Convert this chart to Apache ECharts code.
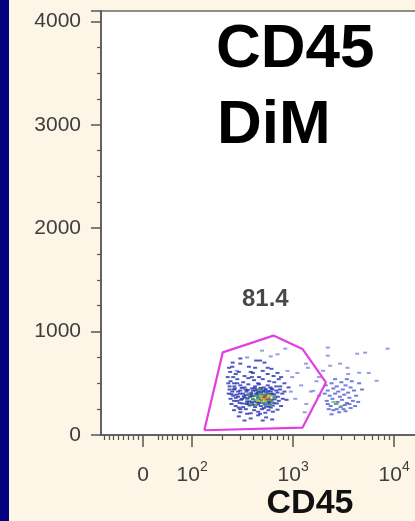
<!DOCTYPE html>
<html>
<head>
<meta charset="utf-8">
<script src="https://cdn.jsdelivr.net/npm/echarts@6/dist/echarts.min.js"></script>
<style>
  html, body { margin: 0; padding: 0; background: #fdf6e6; }
  #chart { width: 415px; height: 521px; }
</style>
</head>
<body>
<div id="chart"></div>
<script>
// SSC vs CD45 dot plot, CD45 dim gate

const yTicks = [0, 1000, 2000, 3000, 4000];
const xTickValues = [0, 100, 1000, 10000];
const xTickLabels = ['0', '{b|10}{s|2}', '{b|10}{s|3}', '{b|10}{s|4}'];
const xMinorTicks = [-80, -70, -60, -50, -40, -30, -20, -10,
  30, 40, 50, 60, 70, 80, 90,
  200, 300, 400, 500, 600, 700, 800, 900,
  2000, 3000, 4000, 5000, 6000, 7000, 8000, 9000, 20000, 30000];

// gate polygon (CD45, SSC)
const gateCD45 = [132, 201, 638, 1236, 2109, 1236, 132];
const gateSSC = [46, 799, 961, 832, 508, 71, 46];
const gateText = '81.4';
const gateTextAt = [530, 1315];

// events [CD45, SSC]
const dimDots = [
  [300,690],[420,650],[520,700],[610,640],[380,610],[700,600],[250,660],[470,720],
  [270,590],[330,570],[400,600],[460,560],[560,590],[640,570],[760,560],[290,610],[500,620],
  [240,520],[280,540],[320,510],[360,550],[410,530],[450,500],[500,540],[580,520],[650,510],[720,540],[820,500],[260,500],[390,560],
  [235,470],[265,450],[300,480],[330,460],[360,490],[390,450],[420,470],[460,490],[510,460],[560,480],[610,450],[680,470],[740,440],[280,500],[440,440],[900,460],
  [230,400],[250,420],[275,390],[300,430],[320,400],[345,420],[370,390],[400,430],[430,400],[460,420],[490,390],[520,430],[560,400],[600,420],[650,390],[700,410],[780,400],[260,440],[340,385],[480,440],[620,440],
  [240,350],[260,330],[285,370],[305,340],[330,360],[350,320],[375,370],[400,345],[425,325],[450,360],[480,340],[510,370],[540,330],[570,355],[610,340],[660,365],[720,330],[790,350],[270,360],[390,320],[460,375],[590,320],
  [245,300],[270,280],[295,310],[320,270],[345,300],[370,285],[395,305],[420,270],[450,295],[480,280],[510,310],[540,275],[580,300],[630,285],[690,305],[760,280],[290,265],[440,315],[600,265],
  [260,240],[300,220],[340,250],[380,210],[410,240],[450,225],[490,250],[530,215],[570,240],[630,225],[700,245],[350,205],[470,205],
  [290,180],[380,160],[450,190],[540,170],[620,150],[330,140],[500,140],
  [310,455],[355,435],[385,410],[415,455],[445,410],[475,455],[505,420],[535,445],[565,425],[595,460],
  [325,375],[355,355],[385,395],[415,380],[445,395],[505,345],[535,385],[565,315],[625,400],[655,345],
  [315,305],[365,325],[405,290],[465,310],[525,295],[575,275],[285,420],[255,380],[235,440],[680,430],
  [225,560],[238,610],[252,700],[232,650],[300,740],[365,660],[430,720],[560,650],[255,560],[228,500],
  [245,395],[262,470],[280,330],[298,400],[312,350],[338,440],[362,300],[392,375],[422,430],[452,330],
  [482,410],[512,260],[545,410],[598,395],[640,310],[705,370],[745,470],[820,420],[860,340],[300,250]
];
const dimCore = [
  [420,380],[460,360],[500,390],[530,350],[480,330],[560,370],[440,340],
  [510,310],[580,340],[470,400],[600,380],[400,350],[540,400],[490,360],
  [360,400],[380,300],[620,320],[650,360],[430,290],[590,290],[350,340],[460,440]
];
const dimHot = [[500,350],[550,360],[480,375],[530,330],[580,380],[450,330]];
const dimRed = [[520,365],[560,345]];

const brightDots = [
  [2100,480],[2400,500],[2700,470],[3000,510],[3300,480],[3700,460],[2200,430],[2500,450],
  [2800,420],[3100,440],[3500,410],[4000,430],[2300,380],[2600,400],[2900,370],[3200,390],
  [3600,360],[4200,380],[2150,330],[2450,350],[2750,320],[3050,340],[3400,310],[3900,330],
  [2350,280],[2650,300],[2950,270],[3250,290],[3700,260],[2500,240],[2850,220],[3150,250],
  [2250,250],[4400,320],[4800,440],[2050,400],[3800,520],[4500,500],[2600,540],[3400,540],
  [2400,200],[2700,250],[3300,230],[3600,300],[2200,300],[4100,280]
];
const brightCore = [[2700,300],[3000,280],[2500,320]];

const strayDots = [
  [2200,845],[4300,786],[5160,796],[8600,835],[2200,767],[2917,690],[3450,650],[4500,602],
  [6700,524],[2323,670],[1980,621],[3500,590],[5600,600],[1800,560],
  [950,420],[1050,350],[1200,480],[1350,300],[1500,420],[1700,520],[1100,600],[1400,650],
  [1580,427],[1340,690],[1800,380],[1300,220],
  [835,835],[492,816],[350,750],[276,621],[700,780],[600,760],[880,620],[980,560]
];

function biex(v) {
  return v >= 100 ? Math.log10(v) : 1.515 + v * 0.00485;
}
function toXY(list) {
  return list.map(function (p) { return [biex(p[0]), p[1]]; });
}

const xMin = biex(-86);
const xMax = biex(40000);
const axisColor = '#555';
const labelColor = '#3e3e3e';

function dots(list, color) {
  return {
    type: 'scatter',
    data: toXY(list),
    symbol: 'rect',
    symbolSize: [4, 2],
    itemStyle: { color: color },
    silent: true,
    animation: false
  };
}

const chart = echarts.init(document.getElementById('chart'), null, { renderer: 'canvas' });

chart.setOption({
  backgroundColor: '#fdf6e6',
  animation: false,
  grid: {
    left: 101, top: 11, width: 354, bottom: 86,
    outerBoundsMode: 'none',
    containLabel: false,
    show: true, backgroundColor: '#ffffff', borderColor: '#6a6a6a', borderWidth: 1.5
  },
  xAxis: [{
    type: 'value', min: xMin, max: xMax,
    axisLine: { show: true, onZero: false, lineStyle: { color: axisColor, width: 1.5 } },
    splitLine: { show: false },
    axisTick: { show: true, customValues: xTickValues.map(biex), length: 12, lineStyle: { color: axisColor, width: 1.5 } },
    axisLabel: {
      customValues: xTickValues.map(biex),
      margin: 25,
      color: labelColor,
      formatter: function (v) {
        for (let k = 0; k < xTickValues.length; k++) {
          if (Math.abs(biex(xTickValues[k]) - v) < 1e-6) {
            return k === 0 ? '{b|0}' : xTickLabels[k];
          }
        }
        return '';
      },
      rich: {
        b: { fontFamily: 'Liberation Sans', fontSize: 21, color: labelColor, lineHeight: 26, verticalAlign: 'bottom' },
        s: { fontFamily: 'Liberation Sans', fontSize: 14, color: labelColor, lineHeight: 14, verticalAlign: 'top' }
      }
    }
  }, {
    type: 'value', min: xMin, max: xMax, position: 'bottom',
    axisLine: { show: false },
    splitLine: { show: false },
    axisLabel: { show: false },
    axisTick: { show: true, customValues: xMinorTicks.map(biex), length: 5, lineStyle: { color: axisColor, width: 1.2 } }
  }],
  yAxis: {
    type: 'value', min: 0, max: 4100, interval: 1000,
    axisLine: { show: true, lineStyle: { color: axisColor, width: 1.5 } },
    splitLine: { show: false },
    axisTick: { show: true, length: 10, lineStyle: { color: axisColor, width: 1.5 } },
    minorTick: { show: true, splitNumber: 4, length: 4, lineStyle: { color: axisColor, width: 1.2 } },
    axisLabel: {
      margin: 20, fontFamily: 'Liberation Sans', fontSize: 21, color: labelColor,
      formatter: function (v) { return yTicks.indexOf(v) >= 0 ? String(v) : ''; }
    }
  },
  graphic: [
    { type: 'rect', shape: { x: 0, y: 0, width: 9, height: 521 }, style: { fill: '#03037f' }, z: 100 },
    { type: 'text', x: 216, y: 50, style: { text: 'CD45', font: 'bold 62px "Liberation Sans"', fill: '#000', verticalAlign: 'middle' }, z: 100 },
    { type: 'text', x: 217, y: 126, style: { text: 'DiM', font: 'bold 62px "Liberation Sans"', fill: '#000', verticalAlign: 'middle' }, z: 100 },
    { type: 'text', x: 310, y: 504, style: { text: 'CD45', font: 'bold 34px "Liberation Sans"', fill: '#111', align: 'center', verticalAlign: 'middle' }, z: 100 }
  ],
  series: [
    dots(strayDots, '#7b86dc'),
    dots(brightDots, '#4d5bd0'),
    dots(dimDots, '#2430b0'),
    dots(brightCore, '#5fb86a'),
    dots(dimCore, '#3fae4a'),
    dots(dimHot, '#d8d030'),
    dots(dimRed, '#d83030'),
    {
      type: 'line',
      data: gateCD45.map(function (x, i) { return [biex(x), gateSSC[i]]; }),
      symbol: 'none',
      lineStyle: { color: '#e23fe2', width: 2.2 },
      silent: true,
      z: 5
    },
    {
      type: 'scatter',
      data: [[biex(gateTextAt[0]), gateTextAt[1]]],
      symbolSize: 0,
      silent: true,
      label: {
        show: true, position: 'inside', formatter: gateText,
        fontFamily: 'Liberation Sans', fontWeight: 'bold', fontSize: 24, color: '#1a1a1a'
      }
    }
  ]
});
</script>
</body>
</html>
